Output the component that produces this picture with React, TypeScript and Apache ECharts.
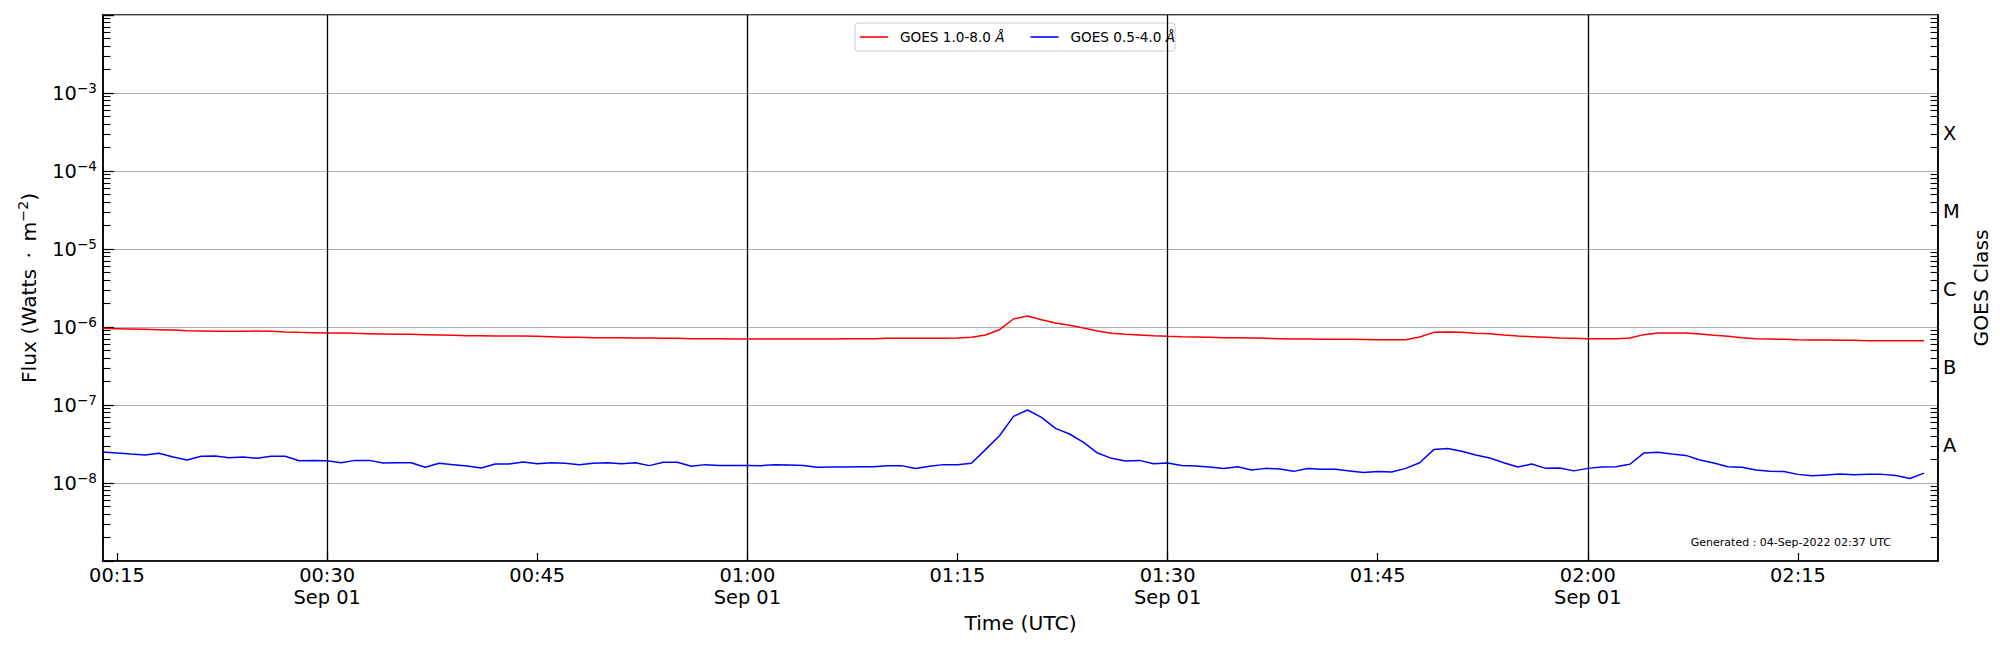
import React, { useEffect, useRef } from 'react';
import * as echarts from 'echarts';

const FONT = 'DejaVu Sans';

// time base of the one-minute GOES samples (UTC, ms)
const seriesStart = Date.UTC(2022, 8, 1, 0, 14);
const cadenceMs = 60 * 1000;
const axisStart = Date.UTC(2022, 8, 1, 0, 14);
const axisEnd = Date.UTC(2022, 8, 1, 2, 25);

// GOES 1.0-8.0 Å flux (W m^-2), 00:14 .. 02:24 UTC
const xrsLong = [
  9.61e-7, 9.52e-7, 9.43e-7, 9.34e-7, 9.24e-7, 9.15e-7, 8.97e-7, 8.89e-7, 8.8e-7, 8.8e-7,
  8.8e-7, 8.89e-7, 8.8e-7, 8.63e-7, 8.54e-7, 8.46e-7, 8.38e-7, 8.38e-7, 8.29e-7, 8.21e-7,
  8.13e-7, 8.05e-7, 8.05e-7, 7.98e-7, 7.9e-7, 7.82e-7, 7.74e-7, 7.74e-7, 7.67e-7, 7.67e-7,
  7.67e-7, 7.6e-7, 7.52e-7, 7.38e-7, 7.38e-7, 7.3e-7, 7.3e-7, 7.3e-7, 7.23e-7, 7.23e-7,
  7.16e-7, 7.16e-7, 7.09e-7, 7.09e-7, 7.09e-7, 7.02e-7, 7.02e-7, 7.02e-7, 7.02e-7, 7.02e-7,
  7.02e-7, 7.02e-7, 7.02e-7, 7.09e-7, 7.09e-7, 7.09e-7, 7.16e-7, 7.16e-7, 7.16e-7, 7.16e-7,
  7.16e-7, 7.23e-7, 7.38e-7, 7.9e-7, 9.24e-7, 1.266e-6, 1.384e-6, 1.242e-6, 1.126e-6, 1.05e-6,
  9.71e-7, 8.89e-7, 8.29e-7, 8.05e-7, 7.9e-7, 7.74e-7, 7.6e-7, 7.52e-7, 7.45e-7, 7.38e-7,
  7.3e-7, 7.27e-7, 7.23e-7, 7.16e-7, 7.09e-7, 7.02e-7, 7.02e-7, 6.99e-7, 6.95e-7, 6.95e-7,
  6.92e-7, 6.88e-7, 6.88e-7, 6.88e-7, 7.45e-7, 8.54e-7, 8.63e-7, 8.54e-7, 8.29e-7, 8.21e-7,
  7.9e-7, 7.67e-7, 7.52e-7, 7.38e-7, 7.23e-7, 7.16e-7, 7.09e-7, 7.09e-7, 7.09e-7, 7.23e-7,
  7.98e-7, 8.38e-7, 8.38e-7, 8.38e-7, 8.13e-7, 7.82e-7, 7.6e-7, 7.3e-7, 7.09e-7, 7.02e-7,
  6.95e-7, 6.88e-7, 6.82e-7, 6.82e-7, 6.75e-7, 6.75e-7, 6.68e-7, 6.68e-7, 6.68e-7, 6.68e-7,
  6.68e-7,
];

// GOES 0.5-4.0 Å flux (W m^-2), 00:14 .. 02:24 UTC
const xrsShort = [
  2.5e-8, 2.42e-8, 2.35e-8, 2.29e-8, 2.4e-8, 2.15e-8, 1.97e-8, 2.2e-8, 2.22e-8, 2.11e-8,
  2.15e-8, 2.07e-8, 2.2e-8, 2.2e-8, 1.93e-8, 1.95e-8, 1.93e-8, 1.82e-8, 1.95e-8, 1.95e-8,
  1.81e-8, 1.82e-8, 1.82e-8, 1.59e-8, 1.79e-8, 1.72e-8, 1.65e-8, 1.56e-8, 1.75e-8, 1.75e-8,
  1.86e-8, 1.77e-8, 1.82e-8, 1.79e-8, 1.72e-8, 1.79e-8, 1.82e-8, 1.77e-8, 1.82e-8, 1.67e-8,
  1.84e-8, 1.84e-8, 1.64e-8, 1.72e-8, 1.68e-8, 1.68e-8, 1.68e-8, 1.67e-8, 1.72e-8, 1.7e-8,
  1.68e-8, 1.59e-8, 1.6e-8, 1.6e-8, 1.62e-8, 1.62e-8, 1.67e-8, 1.67e-8, 1.53e-8, 1.64e-8,
  1.72e-8, 1.72e-8, 1.79e-8, 2.68e-8, 4.04e-8, 7.15e-8, 8.63e-8, 6.95e-8, 5.02e-8, 4.25e-8,
  3.32e-8, 2.42e-8, 2.07e-8, 1.91e-8, 1.95e-8, 1.77e-8, 1.81e-8, 1.68e-8, 1.65e-8, 1.6e-8,
  1.53e-8, 1.62e-8, 1.47e-8, 1.54e-8, 1.51e-8, 1.41e-8, 1.53e-8, 1.5e-8, 1.5e-8, 1.43e-8,
  1.36e-8, 1.4e-8, 1.38e-8, 1.54e-8, 1.82e-8, 2.68e-8, 2.76e-8, 2.55e-8, 2.29e-8, 2.09e-8,
  1.82e-8, 1.6e-8, 1.75e-8, 1.54e-8, 1.56e-8, 1.43e-8, 1.54e-8, 1.6e-8, 1.62e-8, 1.74e-8,
  2.42e-8, 2.47e-8, 2.35e-8, 2.26e-8, 1.97e-8, 1.81e-8, 1.62e-8, 1.59e-8, 1.47e-8, 1.41e-8,
  1.4e-8, 1.29e-8, 1.24e-8, 1.27e-8, 1.3e-8, 1.28e-8, 1.29e-8, 1.29e-8, 1.25e-8, 1.14e-8,
  1.34e-8,
];

const legendNames = ['GOES 1.0-8.0 Å', 'GOES 0.5-4.0 Å'];
const seriesColors = ['#ff0000', '#0000ff'];

const xTickLabels = ['00:15', '00:30', '00:45', '01:00', '01:15', '01:30', '01:45', '02:00', '02:15'];
const xTickDates = ['', 'Sep 01', '', 'Sep 01', '', 'Sep 01', '', 'Sep 01', ''];
const halfHourLines = ['00:30', '01:00', '01:30', '02:00'];

const yMin = 1e-9;
const yMax = 1e-2;
const yLabelExponents = [-8, -7, -6, -5, -4, -3];
const minorMultipliers = [2, 3, 4, 5, 6, 7, 8, 9];
const decadeExponents = [-9, -8, -7, -6, -5, -4, -3];

const goesClasses = ['A', 'B', 'C', 'M', 'X'];
const goesClassLabelFlux = [3e-8, 3e-7, 3e-6, 3e-5, 3e-4];

const generatedText = 'Generated : 04-Sep-2022 02:37 UTC';

const hhmm = (s: string) => Date.UTC(2022, 8, 1, Number(s.slice(0, 2)), Number(s.slice(3, 5)));
const xTickValues = xTickLabels.map(hhmm);

const minorLogPositions: number[] = [];
decadeExponents.forEach((e) => minorMultipliers.forEach((m) => minorLogPositions.push(e + Math.log10(m))));
const classLogPositions = goesClassLabelFlux.map((f) => Math.log10(f));

export default function App() {
  const ref = useRef<HTMLDivElement>(null);

  useEffect(() => {
    if (!ref.current) return;
    const chart = echarts.init(ref.current, undefined, { renderer: 'svg' });

    const baseText = { fontFamily: FONT, color: '#000' };
    const NAME_SIZE = 20.3;
    const supRich = {
      b: { fontFamily: FONT, fontSize: 19.4, lineHeight: 24, color: '#000' },
      s: { fontFamily: FONT, fontSize: 13.6, lineHeight: 14, verticalAlign: 'top', color: '#000' },
    };
    const nameRich = {
      s: { fontFamily: FONT, fontSize: 14.2, lineHeight: 14, verticalAlign: 'top', color: '#000' },
    };

    const option: any = {
      animation: false,
      backgroundColor: '#ffffff',
      grid: {
        left: 103,
        right: 62,
        top: 15,
        bottom: 89,
        show: true,
        borderColor: '#000',
        borderWidth: 1.5,
        backgroundColor: 'transparent',
      },
      legend: {
        data: legendNames,
        left: 855,
        top: 23,
        icon: 'rect',
        itemWidth: 28,
        itemHeight: 1.6,
        itemGap: 26,
        padding: [6, 0, 6, 5],
        borderColor: '#cccccc',
        borderWidth: 1,
        borderRadius: 3,
        backgroundColor: 'transparent',
        selectedMode: false,
        formatter: (name: string) => name.replace('Å', '{i|Å}'),
        textStyle: {
          ...baseText,
          fontSize: 13.6,
          lineHeight: 16,
          padding: [0, 0, 0, 7],
          rich: { i: { fontFamily: FONT, fontSize: 13.6, fontStyle: 'italic', color: '#000' } },
        },
      },
      xAxis: {
        type: 'value',
        min: axisStart,
        max: axisEnd,
        axisLine: { show: true, lineStyle: { color: '#000', width: 1.5 } },
        axisTick: {
          show: true,
          inside: true,
          length: 8,
          lineStyle: { color: '#000', width: 1.2 },
          customValues: xTickValues,
        },
        axisLabel: {
          ...baseText,
          fontSize: 19.4,
          lineHeight: 22,
          margin: 3,
          customValues: xTickValues,
          formatter: (v: number) => {
            const i = xTickValues.findIndex((t) => Math.abs(t - v) < 1000);
            if (i < 0) return '';
            return xTickDates[i] ? `${xTickLabels[i]}\n${xTickDates[i]}` : xTickLabels[i];
          },
        },
        splitLine: { show: false },
        name: 'Time (UTC)',
        nameLocation: 'middle',
        nameGap: 51,
        nameTextStyle: { ...baseText, fontSize: NAME_SIZE },
      },
      yAxis: [
        {
          type: 'log',
          logBase: 10,
          min: yMin,
          max: yMax,
          position: 'left',
          axisLine: { show: true, lineStyle: { color: '#000', width: 1.5 } },
          axisTick: { show: true, inside: true, length: 11, lineStyle: { color: '#000', width: 1.2 } },
          axisLabel: {
            ...baseText,
            margin: 6,
            formatter: (v: number) => {
              const e = Math.round(Math.log10(v));
              if (!yLabelExponents.includes(e)) return '';
              return `{b|10}{s|−${-e}}`;
            },
            rich: supRich,
          },
          splitLine: { show: true, lineStyle: { color: '#b0b0b0', width: 1.1 } },
          name: 'Flux (Watts \u2009·\u2009 m{s|−2})',
          nameLocation: 'middle',
          nameGap: 62,
          nameTextStyle: { ...baseText, fontSize: NAME_SIZE, lineHeight: 25, rich: nameRich },
        },
        {
          type: 'value',
          min: Math.log10(yMin),
          max: Math.log10(yMax),
          position: 'left',
          axisLine: { show: false },
          axisLabel: { show: false },
          splitLine: { show: false },
          axisTick: {
            show: true,
            inside: true,
            length: 7.5,
            lineStyle: { color: '#000', width: 1.1 },
            customValues: minorLogPositions,
          },
        },
        {
          type: 'value',
          min: Math.log10(yMin),
          max: Math.log10(yMax),
          position: 'right',
          axisLine: { show: true, lineStyle: { color: '#000', width: 1.5 } },
          splitLine: { show: false },
          axisTick: {
            show: true,
            inside: true,
            length: 7.5,
            lineStyle: { color: '#000', width: 1.1 },
            customValues: minorLogPositions,
          },
          axisLabel: {
            ...baseText,
            fontSize: 19.4,
            margin: 5,
            padding: [7, 0, 0, 0],
            customValues: classLogPositions,
            formatter: (v: number) => {
              const i = classLogPositions.findIndex((p) => Math.abs(p - v) < 1e-6);
              return i < 0 ? '' : goesClasses[i];
            },
          },
          name: 'GOES Class',
          nameLocation: 'middle',
          nameGap: 18,
          nameTextStyle: { ...baseText, fontSize: NAME_SIZE },
        },
      ],
      series: [
        {
          name: legendNames[0],
          type: 'line',
          yAxisIndex: 0,
          data: xrsLong.map((v, i) => [seriesStart + i * cadenceMs, v]),
          showSymbol: false,
          symbol: 'none',
          color: seriesColors[0],
          lineStyle: { color: seriesColors[0], width: 1.5 },
          itemStyle: { color: seriesColors[0] },
          z: 3,
          silent: true,
          markLine: {
            silent: true,
            symbol: ['none', 'none'],
            label: { show: false },
            lineStyle: { color: '#000', width: 1.3, type: 'solid' },
            emphasis: { disabled: true },
            data: halfHourLines.map((s) => ({ xAxis: hhmm(s) })),
          },
        },
        {
          name: legendNames[1],
          type: 'line',
          yAxisIndex: 0,
          data: xrsShort.map((v, i) => [seriesStart + i * cadenceMs, v]),
          showSymbol: false,
          symbol: 'none',
          color: seriesColors[1],
          lineStyle: { color: seriesColors[1], width: 1.5 },
          itemStyle: { color: seriesColors[1] },
          z: 3,
          silent: true,
        },
      ],
      graphic: [
        {
          type: 'text',
          right: 109,
          top: 537,
          silent: true,
          style: { text: generatedText, font: `11px "${FONT}"`, fill: '#000' },
        },
      ],
    };

    chart.setOption(option);
    return () => chart.dispose();
  }, []);

  return <div ref={ref} style={{ position: 'fixed', left: 0, top: 0, width: 2000, height: 650 }} />;
}
